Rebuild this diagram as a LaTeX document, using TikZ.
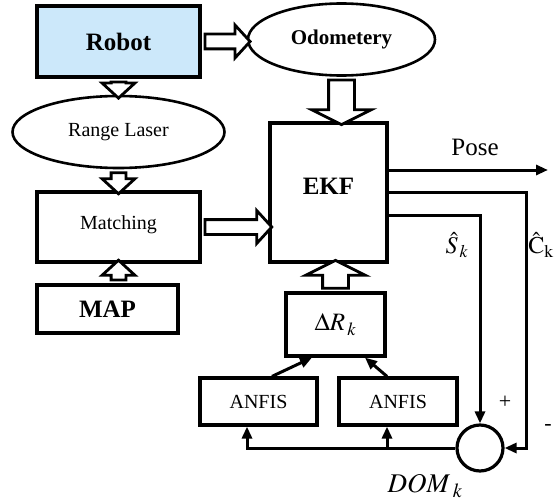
\documentclass[tikz,border=0pt]{standalone}
\usepackage{mathptmx}
\usepackage{fontspec}
\setmainfont{Liberation Serif}
\usetikzlibrary{shapes.geometric,shapes.arrows,arrows.meta,calc}

\definecolor{robotblue}{RGB}{204,232,250}

\tikzset{
  box/.style={draw, line width=3.2pt, rectangle, inner sep=0pt},
  oval/.style={draw, line width=2.6pt, ellipse, inner sep=0pt},
  bigtxt/.style={font=\fontsize{25}{30}\selectfont\bfseries},
  midtxt/.style={font=\fontsize{20}{24}\selectfont},
  fatsmall/.style={draw, fill=white, line width=2.8pt, single arrow, inner xsep=0pt,
    inner ysep=6pt, single arrow head extend=9pt, single arrow tip angle=95},
  fatlarge/.style={draw, fill=white, line width=2.8pt, single arrow, inner xsep=0pt,
    inner ysep=11.5pt, single arrow head extend=17pt, single arrow tip angle=127}
}

% seta larga entre dois pontos
\newcommand\fatarrow[3][fatsmall]{%
  \path let \p1=(#2), \p2=(#3),
    \n1={veclen(\x2-\x1,\y2-\y1)}, \n2={atan2(\y2-\y1,\x2-\x1)} in
    node[#1, minimum height=\n1, rotate=\n2] at ($(\p1)!.5!(\p2)$) {};}

\begin{document}
\begin{tikzpicture}[x=1pt, y=-1pt, line width=3pt, >={Triangle[length=12pt,width=10pt]}]
    \useasboundingbox (0,0) rectangle (555,503);

    % Blocos
    \node[box, fill=robotblue, minimum width=163, minimum height=71, bigtxt] (robot) at (118.5,41.5) {Robot};
    \node[oval, minimum width=187, minimum height=72, font=\fontsize{21}{24}\selectfont\bfseries] (odo) at (341.5,39.5) {Odometery};
    \node[oval, minimum width=212, minimum height=72, midtxt] (laser) at (118.5,132) {Range Laser};
    \node[box, minimum width=163, minimum height=70, midtxt] (match) at (118.5,227) {\raisebox{9pt}{Matching}};
    \node[box, minimum width=141, minimum height=48, bigtxt] (map) at (107.5,309) {MAP};
    \node[box, minimum width=117, minimum height=139, bigtxt] (ekf) at (328.5,192.5) {\raisebox{12pt}{EKF}};
    \node[box, minimum width=99, minimum height=63, font=\fontsize{25}{30}\selectfont] (dr) at (335.5,324.5) {$\Delta R_{\,k}$};
    \node[box, minimum width=117, minimum height=47, midtxt] (anfisA) at (258.5,401.5) {ANFIS};
    \node[box, minimum width=118, minimum height=47, midtxt] (anfisB) at (398,401.5) {ANFIS};
    \node[draw, circle, line width=3.2pt, minimum size=46] (dom) at (480,448) {};

    % Setas largas
    \fatarrow{robot.east}{robot.east -| odo.west}
    \fatarrow{robot.south}{laser.north}
    \fatarrow{laser.south}{match.north}
    \fatarrow{match.south |- map.north}{match.south}
    \fatarrow{match.east}{match.east -| ekf.west}
    \fatarrow[fatlarge]{odo.south}{odo.south |- ekf.north}
    \fatarrow[fatlarge]{dr.north}{dr.north |- ekf.south}

    % Saidas do EKF
    \coordinate (poseend) at (548,170);
    \coordinate (cturn) at (526,448);
    \draw[->] (ekf.east |- poseend) -- (poseend);
    \draw[->] (ekf.east) -| (cturn) -- (dom.east);
    \draw[->] ([yshift=-22.5pt]ekf.east) -| (dom.north);

    % Realimentacao
    \draw[->] ([xshift=13.5pt]anfisA.north) -- ([xshift=-23.5pt]dr.south);
    \draw[->] ([xshift=-11pt]anfisB.north) -- ([xshift=29.5pt]dr.south);
    \draw[->] (dom.west) -| ([xshift=-11.5pt]anfisA.south);
    \draw[->] ([xshift=-11pt]anfisB.south |- dom.west) -- ([xshift=-11pt]anfisB.south);

    % Rotulos
    \node[font=\fontsize{25}{30}\selectfont] (pose) at (475,147) {Pose};
    \node[font=\fontsize{24}{28}\selectfont] (shat) at (457,245) {$\hat{S}_{\,k}$};
    \node[font=\fontsize{24}{28}\selectfont] (chat) at (541,245) {$\hat{\mathrm{C}}_{\mathrm{k}}$};
    \node[font=\fontsize{22}{26}\selectfont] (plus) at (505,402) {+};
    \node[font=\fontsize{22}{26}\selectfont] (minus) at (548,427) {-};
    \node[font=\fontsize{27}{30}\selectfont] (domlab) at (425,486) {$DOM_{\;k}$};

\end{tikzpicture}
\end{document}
